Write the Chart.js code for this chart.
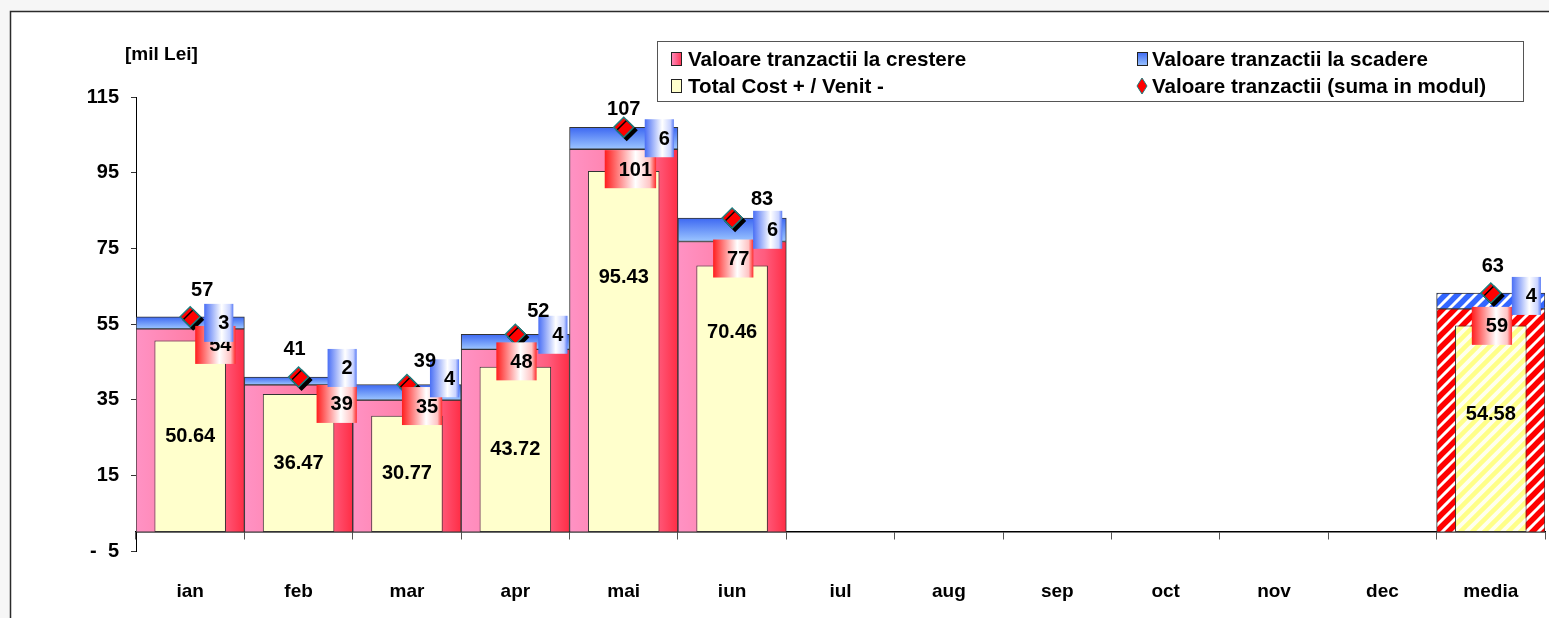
<!DOCTYPE html>
<html>
<head>
<meta charset="utf-8">
<title>Valoare tranzactii</title>
<script src="https://cdn.jsdelivr.net/npm/chart.js@4.4.0/dist/chart.umd.min.js"></script>
<style>
  html, body { margin: 0; padding: 0; background: #fff; }
  #wrap { width: 1549px; height: 618px; }
</style>
</head>
<body>
<div id="wrap"><canvas id="chart" width="1549" height="618"></canvas></div>
<script>
const months = ["ian", "feb", "mar", "apr", "mai", "iun", "iul", "aug", "sep", "oct", "nov", "dec", "media"];
const crestere = [53.7, 38.9, 34.9, 48.3, 101.2, 76.8, null, null, null, null, null, null, 59.0];
const scadere = [3.2, 2.1, 4.1, 4.0, 5.8, 6.2, null, null, null, null, null, null, 4.2];
const sumaModul = [56.9, 41.0, 39.0, 52.3, 107.0, 83.0, null, null, null, null, null, null, 63.2];
const totalCost = [50.64, 36.47, 30.77, 43.72, 95.43, 70.46, null, null, null, null, null, null, 54.58];
const yTicks = [-5, 15, 35, 55, 75, 95, 115];

const FONT = '"Liberation Sans", Arial, sans-serif';
const mediaIndex = months.indexOf("media");

// labels that were dragged by hand in the original (pixel nudges)
const labelNudge = {
  top: { ian: [12, -3], feb: [-4, -4], mar: [18, 0], apr: [23, 0], mai: [0, 5], iun: [30, 4], media: [2, -3] },
  red: { ian: [24, -1], feb: [37, 2], mar: [14, -11], apr: [0, -5], mai: [0, 3] },
  blue: { ian: [-7, 0], feb: [8, -13], mar: [2, -14], apr: [2, -7], media: [0, -5] },
  cost: { mai: [0, -74], iun: [0, -66], media: [0, -14] }
};

function nudge(kind, m) {
  return labelNudge[kind][m] || [0, 0];
}

function stripes(bg, fg, size, width) {
  const c = document.createElement("canvas");
  c.width = size;
  c.height = size;
  const g = c.getContext("2d");
  g.fillStyle = bg;
  g.fillRect(0, 0, size, size);
  g.strokeStyle = fg;
  g.lineWidth = width;
  g.beginPath();
  for (let k = -1; k <= 1; k++) {
    g.moveTo(k * size - 2, size + 2);
    g.lineTo(k * size + size + 2, -2);
  }
  g.stroke();
  return c;
}

const ctx0 = document.getElementById("chart").getContext("2d");
const redStripes = ctx0.createPattern(stripes("#ffffff", "#ff0000", 12, 5.5), "repeat");
const blueStripes = ctx0.createPattern(stripes("#ffffff", "#3366ff", 12, 5.5), "repeat");
const yellowStripes = ctx0.createPattern(stripes("#ffffee", "#ffff88", 12, 4.5), "repeat");

function halfWidth(chart) {
  const x = chart.scales.x;
  return (x.right - x.left) / months.length / 2;
}

function pinkFill(c) {
  const chart = c.chart;
  if (c.dataIndex === mediaIndex) return redStripes;
  const x = chart.scales.x;
  const cx = x ? x.getPixelForValue(c.dataIndex) : NaN;
  const h = x ? halfWidth(chart) : NaN;
  if (!Number.isFinite(cx) || !Number.isFinite(h)) return "#ff7fa6";
  const g = chart.ctx.createLinearGradient(cx - h, 0, cx + h, 0);
  g.addColorStop(0, "#ff92c4");
  g.addColorStop(0.5, "#ff7fa8");
  g.addColorStop(0.8, "#ff5c7e");
  g.addColorStop(1, "#ff2d45");
  return g;
}

function blueFill(c) {
  const chart = c.chart;
  const i = c.dataIndex;
  if (i === mediaIndex) return blueStripes;
  const y = chart.scales.y;
  if (!y || crestere[i] == null) return "#6f95ff";
  const top = y.getPixelForValue(crestere[i] + scadere[i]);
  const bot = y.getPixelForValue(crestere[i]);
  if (!Number.isFinite(top) || !Number.isFinite(bot)) return "#6f95ff";
  const g = chart.ctx.createLinearGradient(0, top, 0, bot);
  g.addColorStop(0, "#3d68f2");
  g.addColorStop(1, "#9cc6ff");
  return g;
}

function yellowFill(c) {
  return c.dataIndex === mediaIndex ? yellowStripes : "#ffffcc";
}

function boxGradient(ctx, x, w, blue) {
  const g = ctx.createLinearGradient(x, 0, x + w, 0);
  if (blue) {
    g.addColorStop(0, "#4a6ff5");
    g.addColorStop(0.6, "#ffffff");
    g.addColorStop(0.88, "#c9d3ff");
    g.addColorStop(1, "#5a7cf6");
  } else {
    g.addColorStop(0, "#ff1e1e");
    g.addColorStop(0.6, "#ffffff");
    g.addColorStop(0.88, "#ffc4c4");
    g.addColorStop(1, "#ff2a2a");
  }
  return g;
}

function labelBox(ctx, text, left, top, blue) {
  const tw = ctx.measureText(text).width;
  const w = tw + 18;
  const h = 38;
  ctx.fillStyle = boxGradient(ctx, left, w, blue);
  ctx.fillRect(left, top, w, h);
  ctx.fillStyle = "#000";
  ctx.textAlign = "right";
  ctx.fillText(text, left + w - 4, top + h / 2 + 1);
}

const valueLabels = {
  id: "valueLabels",
  afterDatasetsDraw(chart) {
    const { ctx, scales: { x, y } } = chart;
    const base = y.getPixelForValue(0);
    ctx.save();
    ctx.font = "bold 20px " + FONT;
    ctx.textBaseline = "middle";
    months.forEach((m, i) => {
      if (crestere[i] == null) return;
      const cx = x.getPixelForValue(i);
      const pinkTop = y.getPixelForValue(crestere[i]);
      const blueTop = y.getPixelForValue(crestere[i] + scadere[i]);
      const costTop = y.getPixelForValue(totalCost[i]);

      let n = nudge("cost", m);
      ctx.fillStyle = "#000";
      ctx.textAlign = "center";
      ctx.fillText(totalCost[i].toFixed(2), cx + n[0], (costTop + base) / 2 + n[1]);

      n = nudge("red", m);
      labelBox(ctx, String(Math.round(crestere[i])), cx - 19 + n[0], pinkTop - 2 + n[1], false);

      n = nudge("blue", m);
      labelBox(ctx, String(Math.round(scadere[i])), cx + 21 + n[0], (pinkTop + blueTop) / 2 - 19 + n[1], true);

      n = nudge("top", m);
      ctx.fillStyle = "#000";
      ctx.textAlign = "center";
      ctx.fillText(String(Math.round(sumaModul[i])), cx + n[0], y.getPixelForValue(sumaModul[i]) - 23 + n[1]);
    });
    ctx.restore();
  }
};

// black drop shadow under the diamonds
const diamondShadow = {
  id: "diamondShadow",
  beforeDatasetDraw(chart, args) {
    if (args.index !== 0) return;
    const ctx = chart.ctx;
    ctx.save();
    ctx.shadowColor = "#000";
    ctx.shadowOffsetX = 3;
    ctx.shadowOffsetY = 3;
    ctx.shadowBlur = 0;
  },
  afterDatasetDraw(chart, args) {
    if (args.index !== 0) return;
    chart.ctx.restore();
  }
};

const frame = {
  id: "frame",
  beforeDraw(chart) {
    const ctx = chart.ctx;
    ctx.save();
    ctx.fillStyle = "#f6f6f6";
    ctx.fillRect(0, 0, chart.width, chart.height);
    ctx.fillStyle = "#ffffff";
    ctx.fillRect(11, 12, chart.width, chart.height);
    ctx.strokeStyle = "#2b2b2b";
    ctx.lineWidth = 1.5;
    ctx.beginPath();
    ctx.moveTo(10.5, chart.height + 5);
    ctx.lineTo(10.5, 11.5);
    ctx.lineTo(chart.width + 5, 11.5);
    ctx.stroke();

    ctx.fillStyle = "#000";
    ctx.font = "bold 19px " + FONT;
    ctx.textAlign = "left";
    ctx.textBaseline = "middle";
    ctx.fillText("[mil Lei]", 125, 55);
    ctx.restore();
  }
};

function swatch(ctx, x, y, fill) {
  ctx.fillStyle = fill;
  ctx.fillRect(x, y, 11, 14);
  ctx.strokeStyle = "#222";
  ctx.lineWidth = 1;
  ctx.strokeRect(x + 0.5, y + 0.5, 10, 13);
}

const legendBox = {
  id: "legendBox",
  afterDraw(chart) {
    const ctx = chart.ctx;
    ctx.save();
    ctx.fillStyle = "#fff";
    ctx.fillRect(657, 41, 866, 60);
    ctx.strokeStyle = "#555";
    ctx.lineWidth = 1;
    ctx.strokeRect(657.5, 41.5, 866, 60);

    let g = ctx.createLinearGradient(671, 0, 682, 0);
    g.addColorStop(0, "#ff92c4");
    g.addColorStop(1, "#ff3050");
    swatch(ctx, 671, 52, g);
    g = ctx.createLinearGradient(0, 52, 0, 66);
    g.addColorStop(0, "#3d68f2");
    g.addColorStop(1, "#9cc6ff");
    swatch(ctx, 1137, 52, g);
    swatch(ctx, 671, 79, "#ffffcc");

    ctx.beginPath();
    ctx.moveTo(1142, 78);
    ctx.lineTo(1147, 86);
    ctx.lineTo(1142, 94);
    ctx.lineTo(1137, 86);
    ctx.closePath();
    ctx.fillStyle = "#ff0000";
    ctx.fill();
    ctx.strokeStyle = "#1f7f7f";
    ctx.stroke();

    ctx.fillStyle = "#000";
    ctx.font = "bold 20.6px " + FONT;
    ctx.textAlign = "left";
    ctx.textBaseline = "middle";
    ctx.fillText("Valoare tranzactii la crestere", 688, 60);
    ctx.fillText("Valoare tranzactii la scadere", 1152, 60);
    ctx.fillText("Total Cost + / Venit -", 688, 87);
    ctx.fillText("Valoare tranzactii (suma in modul)", 1152, 87);
    ctx.restore();
  }
};

new Chart(ctx0, {
  data: {
    labels: months,
    datasets: [
      {
        type: "line",
        label: "Valoare tranzactii (suma in modul)",
        data: sumaModul,
        showLine: false,
        pointStyle: "rectRot",
        pointRadius: 10,
        pointBackgroundColor: "#ff0000",
        pointBorderColor: "#1f7f7f",
        pointBorderWidth: 1.5
      },
      {
        type: "bar",
        label: "Total Cost + / Venit -",
        data: totalCost,
        grouped: false,
        barPercentage: 0.66,
        categoryPercentage: 1,
        backgroundColor: yellowFill,
        borderColor: "#333",
        borderWidth: 1,
        borderSkipped: false
      },
      {
        type: "bar",
        label: "Valoare tranzactii la scadere",
        data: months.map((m, i) => crestere[i] == null ? null : [crestere[i], crestere[i] + scadere[i]]),
        grouped: false,
        barPercentage: 1,
        categoryPercentage: 1,
        backgroundColor: blueFill,
        borderColor: "#333",
        borderWidth: 1,
        borderSkipped: false
      },
      {
        type: "bar",
        label: "Valoare tranzactii la crestere",
        data: crestere,
        grouped: false,
        barPercentage: 1,
        categoryPercentage: 1,
        backgroundColor: pinkFill,
        borderColor: "#333",
        borderWidth: 1,
        borderSkipped: false
      }
    ]
  },
  options: {
    responsive: false,
    devicePixelRatio: 1,
    animation: false,
    layout: { autoPadding: false, padding: { left: 0, top: 97, right: 4, bottom: 67 } },
    plugins: {
      legend: { display: false },
      tooltip: { enabled: false }
    },
    scales: {
      x: {
        type: "category",
        position: { y: 0 },
        offset: true,
        afterFit: s => { s.paddingLeft = 0; s.paddingRight = 0; },
        grid: { offset: true, drawOnChartArea: false, drawTicks: true, tickLength: 7, color: "#555" },
        border: { display: true, color: "#000", width: 1.5 },
        ticks: { color: "#000", font: { family: FONT, size: 19, weight: "bold" }, padding: 41, maxRotation: 0 }
      },
      y: {
        min: -5,
        max: 115,
        afterBuildTicks: s => { s.ticks = yTicks.map(v => ({ value: v })); },
        afterFit: s => { s.width = 136; },
        grid: { drawOnChartArea: false, tickLength: 5, color: "#333" },
        border: { display: true, color: "#000", width: 1 },
        ticks: {
          color: "#000",
          padding: 12,
          font: { family: FONT, size: 20, weight: "bold" },
          callback: v => v < 0 ? "-  " + Math.abs(v) : String(v)
        }
      }
    }
  },
  plugins: [frame, diamondShadow, valueLabels, legendBox]
});
</script>
</body>
</html>
